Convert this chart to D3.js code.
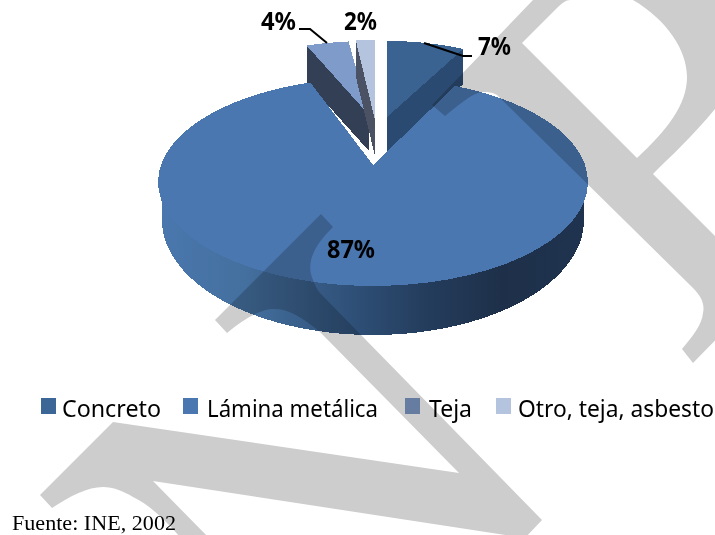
<!DOCTYPE html>
<html>
<head>
<meta charset="utf-8">
<script src="https://cdn.jsdelivr.net/npm/d3@7"></script>
<style>
	html, body { margin: 0; padding: 0; background: #fff; }
	svg { display: block; }
	.watermark { fill: #cdcdcd; mix-blend-mode: multiply; }
	.slice { shape-rendering: crispEdges; }
</style>
</head>
<body>
<div id="chart"></div>
<script>
	// values (labels in the original are rounded)
	var categories = ["Concreto", "Lámina metálica", "Teja", "Otro, teja, asbesto"];
	var values = [7.4, 87.0, 3.8, 1.8];
	var valueLabels = ["7%", "87%", "4%", "2%"];
	var topColors = ["#3a6392", "#4a77b0", "#7f9bc9", "#b4c3de"];
	var wallColors = ["#2b4a72", "#1f3350", "#323f54", "#4a5263"];
	var legendColors = ["#3c6696", "#4a77b0", "#7f9bc9", "#b4c3de"];
	var source = "Fuente: INE, 2002";

	var width = 715,
		height = 535;

	var svg = d3.select("#chart")
		.append("svg")
		.attr("width", width)
		.attr("height", height);

	svg.append("rect").attr("width", width).attr("height", height).attr("fill", "#fff");

	var arcs = d3.pie().sort(null)(values);
	var toDeg = Math.PI / 180;

	var line = d3.line().x(function(p) { return p[0] }).y(function(p) { return p[1] });

	// main disc, tilted: the apex sits above the centre of the ellipse
	var disc = { cx: 373, cy: 182, rx: 215, ry: 104, apexY: 165 };
	var rim = { cx: 373, cy: 220, rx: 211, ry: 115 };

	// exploded slices, each with its own apex and radii
	var exploded = {
		0: { ax: 387, ay: 117, rx: 170, ry: 76, depth: 35 },
		2: { ax: 369, ay: 115, rx: 181, ry: 74, depth: 36 },
		3: { ax: 375, ay: 120, rx: 170, ry: 80, depth: 36 }
	};

	function sliceEdge(o, a) {
		return [o.ax + o.rx * Math.sin(a), o.ay - o.ry * Math.cos(a)];
	}

	// ray from the apex to the ellipse of the disc
	function discEdge(a) {
		var dx = Math.sin(a) * disc.rx,
			dy = -Math.cos(a) * disc.ry,
			oy = disc.apexY - disc.cy;
		var qa = (dx * dx) / (disc.rx * disc.rx) + (dy * dy) / (disc.ry * disc.ry),
			qb = 2 * oy * dy / (disc.ry * disc.ry),
			qc = (oy * oy) / (disc.ry * disc.ry) - 1;
		var t = (-qb + Math.sqrt(qb * qb - 4 * qa * qc)) / (2 * qa);
		return [disc.cx + dx * t, disc.apexY + dy * t];
	}

	function sweep(start, end) {
		return d3.range(0, 61).map(function(i) { return start + (end - start) * i / 60 });
	}

	function drawExploded(i) {
		var o = exploded[i],
			d = arcs[i],
			apex = [o.ax, o.ay],
			cut = i === 0 ? d.endAngle : d.startAngle,
			edge = sliceEdge(o, cut);

		// cut wall of the slice
		svg.append("path")
			.attr("class", "slice")
			.attr("d", line([apex, edge, [edge[0], edge[1] + o.depth], [apex[0], apex[1] + o.depth]]) + "Z")
			.attr("fill", wallColors[i]);

		// top face
		svg.append("path")
			.attr("class", "slice")
			.attr("d", line([apex].concat(sweep(d.startAngle, d.endAngle).map(function(a) { return sliceEdge(o, a) }))) + "Z")
			.attr("fill", topColors[i]);
	}

	drawExploded(2);
	drawExploded(3);
	drawExploded(0);

	// outer wall of the big slice, light on the left and dark on the right
	var defs = svg.append("defs");
	var wallGrad = defs.append("linearGradient")
		.attr("id", "wallGrad")
		.attr("gradientUnits", "userSpaceOnUse")
		.attr("x1", disc.cx - disc.rx).attr("x2", disc.cx + disc.rx)
		.attr("y1", 0).attr("y2", 0);

	[[0, "#4a77ae"], [0.2, "#44709f"], [0.45, "#2f5078"], [0.62, "#243d5d"], [0.8, "#1e3049"], [1, "#1f3350"]]
		.forEach(function(s) {
			wallGrad.append("stop").attr("offset", s[0]).attr("stop-color", s[1]);
		});

	// upper side of the wall runs under the top face so no seam shows
	var frontTop = d3.range(90, 271, 3).map(function(a) {
		return [disc.cx + (disc.rx - 4) * Math.sin(a * toDeg), disc.cy - (disc.ry - 6) * Math.cos(a * toDeg)];
	});
	var frontBottom = d3.range(270, 89, -3).map(function(a) {
		return [rim.cx + rim.rx * Math.sin(a * toDeg), rim.cy - rim.ry * Math.cos(a * toDeg)];
	});

	svg.append("path")
		.attr("class", "slice")
		.attr("d", line(frontTop.concat(frontBottom)) + "Z")
		.attr("fill", "url(#wallGrad)");

	// top face of the big slice
	svg.append("path")
		.attr("class", "slice")
		.attr("d", line([[disc.cx, disc.apexY]].concat(sweep(arcs[1].startAngle, arcs[1].endAngle).map(discEdge))) + "Z")
		.attr("fill", topColors[1]);

	// leader lines
	var leaders = [
		[[424, 43], [463, 56], [472, 56]],
		[[299, 29], [310, 29], [327, 43]]
	];
	svg.selectAll(".leader")
		.data(leaders)
		.enter().append("path")
		.attr("class", "leader")
		.attr("d", line)
		.attr("fill", "none")
		.attr("stroke", "#000")
		.attr("stroke-width", 2);

	// value labels
	var labelPos = [[478, 55, 33], [327, 258, 48], [261, 30, 35], [344, 30, 33]];
	svg.selectAll(".value")
		.data(valueLabels)
		.enter().append("text")
		.attr("class", "value")
		.attr("x", function(d, i) { return labelPos[i][0] })
		.attr("y", function(d, i) { return labelPos[i][1] })
		.attr("textLength", function(d, i) { return labelPos[i][2] })
		.attr("lengthAdjust", "spacingAndGlyphs")
		.style("font-family", "'Noto Sans', sans-serif")
		.style("font-weight", "bold")
		.style("font-size", "25px")
		.text(function(d) { return d });

	// legend
	var legendPos = [[41, 62, 99], [183, 207, 171], [405, 429, 43], [496, 518, 196]];
	var legend = svg.selectAll(".legend")
		.data(categories)
		.enter().append("g")
		.attr("class", "legend");

	legend.append("rect")
		.attr("x", function(d, i) { return legendPos[i][0] })
		.attr("y", 398)
		.attr("width", 15)
		.attr("height", 16)
		.attr("fill", function(d, i) { return legendColors[i] });

	legend.append("text")
		.attr("x", function(d, i) { return legendPos[i][1] })
		.attr("y", 417)
		.attr("textLength", function(d, i) { return legendPos[i][2] })
		.attr("lengthAdjust", "spacingAndGlyphs")
		.style("font-family", "'Noto Sans', sans-serif")
		.style("font-size", "24px")
		.text(function(d) { return d });

	svg.append("text")
		.attr("x", 12)
		.attr("y", 530)
		.attr("textLength", 164)
		.attr("lengthAdjust", "spacingAndGlyphs")
		.style("font-family", "'Liberation Serif', serif")
		.style("font-size", "21px")
		.text(source);

	// grey draft watermark, multiplied over everything
	var watermark = [
		"M40,495 L113,422 L459,473 L320,332 C300,315 285,308 272,309 C258,310 243,320 227,333 L215,320 L321,214 L333,227 C315,245 305,262 313,280 C315,285 317,290 320,293 L542,520 L525,538 L153,481 L208,537 L180,537 C165,520 150,505 133,497 C123,491 113,487 103,487 C88,487 70,496 52,508 Z",
		"M533,0 L432,105 L445,116 C460,104 472,93 483,92 C488,92 492,92 497,95 L693,288 C701,296 705,304 703,313 C702,325 692,337 682,349 L693,363 L730,325 L730,251 L653,174 C675,152 700,130 730,90 L730,-5 L633,-5 L633,0 C667,20 687,50 687,77 C687,105 667,130 637,158 L522,43 L557,8 C562,3 566,0 570,0 Z"
	];
	svg.selectAll(".watermark")
		.data(watermark)
		.enter().append("path")
		.attr("class", "watermark")
		.attr("d", function(d) { return d });
</script>
</body>
</html>
